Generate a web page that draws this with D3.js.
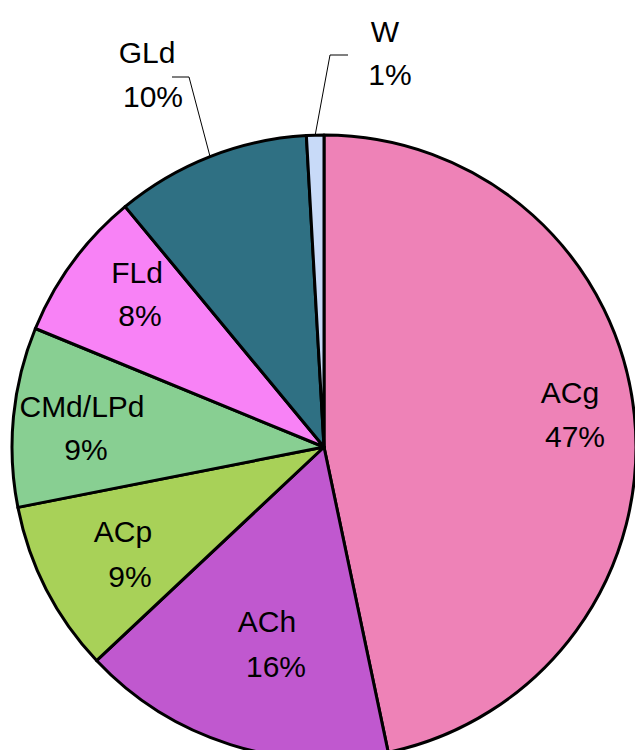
<!DOCTYPE html>
<html>
<head>
<meta charset="utf-8">
<script src="https://cdn.jsdelivr.net/npm/d3@7/dist/d3.min.js"></script>
<style>
  html, body { margin: 0; padding: 0; background: #ffffff; }
  svg { display: block; }
  text { font-family: "Liberation Sans", Arial, Helvetica, sans-serif; fill: #000; }
</style>
</head>
<body>
<svg id="chart" width="635" height="750"></svg>
<script>
// ---- data ----
const categories = ["ACg", "ACh", "ACp", "CMd/LPd", "FLd", "GLd", "W"];
const values = [46.7, 16.3, 8.9, 9.3, 7.8, 10.1, 0.9];
const percentLabels = ["47%", "16%", "9%", "9%", "8%", "10%", "1%"];
const colors = ["#EE82B7", "#C058CF", "#A8D158", "#88CF92", "#F882F6", "#2F7083", "#C8DAF8"];

// ---- layout ----
const width = 635, height = 750;
const cx = 324, cy = 447, R = 312;
// label anchor (centre x, first-line baseline) per slice, relative to chart centre
const labelLayout = [
  { dx: 246, dy: -44, dx2: 5, dy2: 44, outside: false },
  { dx: -57, dy: 185, dx2: 9, dy2: 45, outside: false },
  { dx: -201, dy: 95, dx2: 7, dy2: 45, outside: false },
  { dx: -242, dy: -30, dx2: 4, dy2: 43, outside: false },
  { dx: -187, dy: -164, dx2: 3, dy2: 43, outside: false },
  { dx: -177, dy: -384, dx2: 6, dy2: 44, outside: true, elbow: [-135, -370], end: [-152, -370] },
  { dx: 61, dy: -405, dx2: 5, dy2: 43, outside: true, elbow: [6, -392], end: [24, -392] }
];

const svg = d3.select("#chart");
const g = svg.append("g").attr("transform", `translate(${cx},${cy})`);

const pie = d3.pie().sort(null).value(d => d.value);
const data = categories.map((c, i) => ({ name: c, value: values[i], pct: percentLabels[i], color: colors[i], lay: labelLayout[i] }));
const arcs = pie(data);
const arc = d3.arc().innerRadius(0).outerRadius(R);
const edgeArc = d3.arc().innerRadius(R).outerRadius(R);

g.selectAll("path.slice")
  .data(arcs)
  .join("path")
  .attr("class", "slice")
  .attr("d", arc)
  .attr("fill", d => d.data.color)
  .attr("stroke", "#000")
  .attr("stroke-width", 3)
  .attr("stroke-linejoin", "round");

// leader lines for outside labels
arcs.filter(d => d.data.lay.outside).forEach(d => {
  const start = edgeArc.centroid(d);
  const lay = d.data.lay;
  g.append("polyline")
    .attr("points", [start, lay.elbow, lay.end].map(p => p.join(",")).join(" "))
    .attr("fill", "none")
    .attr("stroke", "#000")
    .attr("stroke-width", 1);
});

const fs = 30;
const labels = g.selectAll("g.lab")
  .data(arcs)
  .join("g")
  .attr("class", "lab")
  .attr("transform", d => `translate(${d.data.lay.dx},${d.data.lay.dy})`);

labels.append("text")
  .attr("text-anchor", "middle")
  .attr("font-size", fs)
  .text(d => d.data.name);

labels.append("text")
  .attr("text-anchor", "middle")
  .attr("font-size", fs)
  .attr("x", d => d.data.lay.dx2)
  .attr("y", d => d.data.lay.dy2)
  .text(d => d.data.pct);
</script>
</body>
</html>
